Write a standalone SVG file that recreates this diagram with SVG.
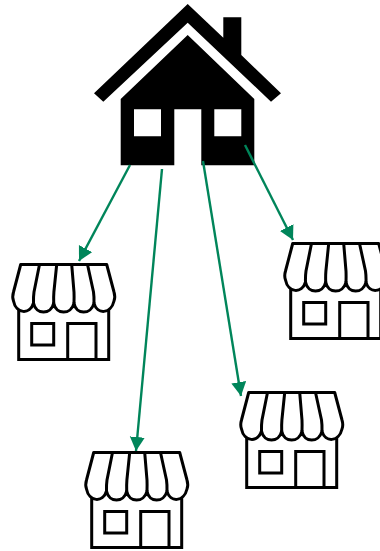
<svg xmlns="http://www.w3.org/2000/svg" width="380" height="551" viewBox="0 0 380 551">
<defs>
<style>
.s{fill:#fff;stroke:#000;stroke-width:3;stroke-linejoin:round}
.n{fill:none;stroke:#000;stroke-width:3;stroke-linejoin:miter}
.c{fill:none;stroke:#00855a;stroke-width:2.4}
.h{fill:#000;fill-rule:evenodd}
</style>
<marker id="a" markerUnits="userSpaceOnUse" markerWidth="16" markerHeight="16" refX="14" refY="7.5" orient="auto"><path d="M0 0L14 7.5L0 15Z" fill="#00855a"/></marker>
<g id="store">
<path class="n" d="M18.7 305V359.5H108.7V305"/>
<rect class="n" x="31.7" y="323.5" width="22" height="21.5"/>
<path class="n" d="M67.7 359.5V323.5H96V359.5"/>
<path class="s" d="M20.7 264.5H106.7L114 292Q115.5 297 114 301C111 314 97 315 94 303C91 315 76 315 74 303C71 315 56 315 53.7 303C51 315 36 315 33.5 303C30 315 16 314 13.5 301Q12 297 13.5 292Z"/>
<path class="n" d="M39.5 264.5L34 292Q33.3 297 33.5 303M56.7 264.5L53.9 292Q53.5 297 53.7 303M71.7 264.5L74 292Q74.2 297 74 303M87.5 264.5L93.5 292Q94.2 297 94 303"/>
</g>
</defs>
<g id="house"><path class="h" d="M187.7 4L223.3 37.7V17.3H241.3V55L281 93.3L271 101.7L187.7 22.7L103.3 101.7L94 93.3Z"/><path class="h" d="M187.7 35L254.3 99V165.3H201.3V109.3H174.3V165.3H120.7V99ZM134 109.3V136.3H161V109.3ZM214.3 109.3V136.3H241.3V109.3Z"/></g>
<g id="store1"><use href="#store"/></g>
<g id="store2" transform="translate(73 188)"><use href="#store"/></g>
<g id="store3" transform="translate(228 128)"><use href="#store"/></g>
<g id="store4" transform="translate(272 -21)"><use href="#store"/></g>
<g id="connectors">
<path class="c" marker-end="url(#a)" d="M130 165L79 261"/>
<path class="c" marker-end="url(#a)" d="M162 169L136 451"/>
<path class="c" marker-end="url(#a)" d="M203 161L241 396"/>
<path class="c" marker-end="url(#a)" d="M245 145L293 240"/>
</g>
</svg>
